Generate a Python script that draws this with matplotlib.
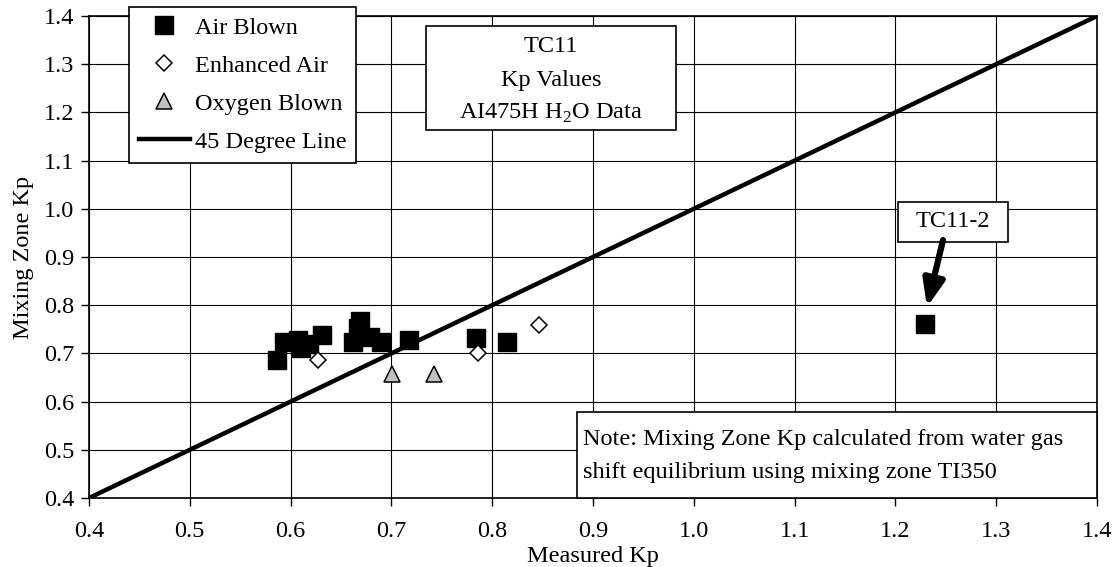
import numpy as np
import matplotlib.pyplot as plt
from matplotlib.patches import Rectangle
from matplotlib.lines import Line2D

plt.rcParams["font.family"] = ["Liberation Serif", "DejaVu Serif"]
plt.rcParams["mathtext.fontset"] = "custom"
plt.rcParams["mathtext.rm"] = "Liberation Serif"
FS = 17.5

# Measured Kp vs mixing-zone Kp
air_x = [0.587, 0.593, 0.607, 0.610, 0.618, 0.631, 0.662, 0.667, 0.669,
         0.679, 0.690, 0.717, 0.784, 0.815, 1.229]
air_y = [0.687, 0.724, 0.727, 0.712, 0.719, 0.738, 0.724, 0.752, 0.768,
         0.734, 0.724, 0.727, 0.731, 0.724, 0.762]
enh_x = [0.627, 0.786, 0.846]
enh_y = [0.687, 0.700, 0.758]
oxy_x = [0.701, 0.742]
oxy_y = [0.657, 0.657]
line45 = [0.4, 1.4]
ticks = [0.4, 0.5, 0.6, 0.7, 0.8, 0.9, 1.0, 1.1, 1.2, 1.3, 1.4]

fig = plt.figure(figsize=(11.17, 5.67), dpi=100)
ax = fig.add_axes([89 / 1117, 1 - 498 / 567, 1008 / 1117, 482 / 567])

ax.plot(line45, line45, color="black", lw=3.2, zorder=3, solid_capstyle="butt")
ax.plot(air_x, air_y, "s", ms=13, mfc="black", mec="black", zorder=4)
ax.plot(enh_x, enh_y, "D", ms=8.6, mfc="white", mec="black", mew=1.1, zorder=4)
ax.plot(oxy_x, oxy_y, "^", ms=12, mfc="#c0c0c0", mec="black", mew=1.1, zorder=4)

ax.set_xlim(0.4, 1.4)
ax.set_ylim(0.4, 1.4)
ax.set_xticks(ticks)
ax.set_yticks(ticks)
ax.set_xticklabels([f"{t:.1f}" for t in ticks])
ax.set_yticklabels([f"{t:.1f}" for t in ticks])
ax.grid(True, color="black", lw=0.8)
ax.set_axisbelow(True)
ax.tick_params(axis="both", direction="out", length=5.5, width=1, labelsize=FS)
ax.tick_params(axis="x", pad=11)
ax.tick_params(axis="y", pad=5)
for s in ax.spines.values():
    s.set_linewidth(1.2)

ax.set_xlabel("Measured Kp", fontsize=FS)
ax.xaxis.set_label_coords(0.5, -0.1)
ax.set_ylabel("Mixing Zone Kp", fontsize=FS)
ax.yaxis.set_label_coords(-0.055, 0.5)

# legend
handles = [
    Line2D([], [], ls="none", marker="s", ms=13, mfc="black", mec="black"),
    Line2D([], [], ls="none", marker="D", ms=8.6, mfc="white", mec="black", mew=1.1),
    Line2D([], [], ls="none", marker="^", ms=12, mfc="#c0c0c0", mec="black", mew=1.1),
    Line2D([], [], color="black", lw=3.2),
]
labels = ["Air Blown", "Enhanced Air", "Oxygen Blown", "45 Degree Line"]
leg = fig.legend(handles, labels, loc="upper left",
                 bbox_to_anchor=(129 / 1117, 1 - 7 / 567), borderaxespad=0,
                 fontsize=FS, frameon=True, fancybox=False, edgecolor="black",
                 framealpha=1, handlelength=2.1, handletextpad=0.2,
                 labelspacing=0.66, borderpad=0.4)
leg.get_frame().set_linewidth(1.2)

# title box
ax.add_patch(Rectangle((0.3343, 0.7635), 0.248, 0.2158, transform=ax.transAxes,
                       facecolor="white", edgecolor="black", lw=1.2, zorder=5))
for yy, txt in [(0.9357, "TC11"), (0.8672, "Kp Values"),
                (0.7988, r"AI475H H$_\mathregular{2}$O Data")]:
    ax.text(0.4583, yy, txt, transform=ax.transAxes, ha="center", va="center",
            fontsize=FS, zorder=6)

# note box
ax.add_patch(Rectangle((0.484, 0.0), 0.516, 0.178, transform=ax.transAxes,
                       facecolor="white", edgecolor="black", lw=1.2, zorder=5,
                       clip_on=False))
ax.text(0.49, 0.122, "Note: Mixing Zone Kp calculated from water gas",
        transform=ax.transAxes, ha="left", va="center", fontsize=FS, zorder=6)
ax.text(0.49, 0.052, "shift equilibrium using mixing zone TI350",
        transform=ax.transAxes, ha="left", va="center", fontsize=FS, zorder=6)

# TC11-2 callout
ax.add_patch(Rectangle((1.2026, 0.931), 0.1091, 0.083, facecolor="white",
                       edgecolor="black", lw=1.2, zorder=5))
ax.text(1.257, 0.973, "TC11-2", ha="center", va="center", fontsize=FS, zorder=6)
ax.annotate("", xy=(1.2313, 0.796), xytext=(1.2472, 0.935),
            arrowprops=dict(arrowstyle="-|>,head_length=0.8,head_width=0.32",
                            mutation_scale=20, lw=4.5, color="black",
                            shrinkA=0, shrinkB=0), zorder=6)

fig.savefig("out.png", dpi=100)
